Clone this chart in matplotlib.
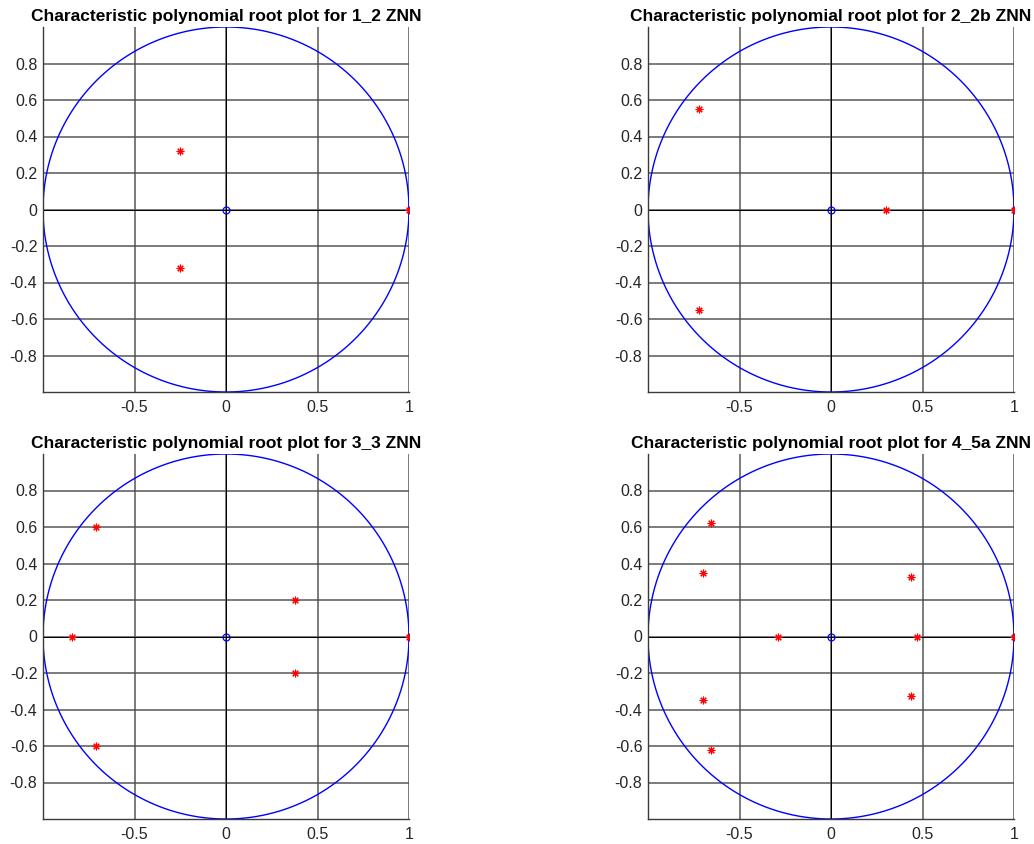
import matplotlib.pyplot as plt
import numpy as np

plt.rcParams['font.family'] = ['Liberation Sans', 'DejaVu Sans']

titles = ["1_2", "2_2b", "3_3", "4_5a"]

roots_1_2_re = [1.0, -0.25, -0.25]
roots_1_2_im = [0.0, 0.32, -0.32]

roots_2_2b_re = [1.0, 0.3, -0.72, -0.72]
roots_2_2b_im = [0.0, 0.0, 0.55, -0.55]

roots_3_3_re = [1.0, 0.375, 0.375, -0.71, -0.71, -0.84]
roots_3_3_im = [0.0, 0.2, -0.2, 0.6, -0.6, 0.0]

roots_4_5a_re = [1.0, 0.47, 0.435, 0.435, -0.29, -0.70, -0.70, -0.655, -0.655]
roots_4_5a_im = [0.0, 0.0, 0.328, -0.328, 0.0, 0.35, -0.35, 0.624, -0.624]

all_re = [roots_1_2_re, roots_2_2b_re, roots_3_3_re, roots_4_5a_re]
all_im = [roots_1_2_im, roots_2_2b_im, roots_3_3_im, roots_4_5a_im]

xticks = [-0.5, 0, 0.5, 1]
yticks = [-0.8, -0.6, -0.4, -0.2, 0, 0.2, 0.4, 0.6, 0.8]
xlabels = ["-0.5", "0", "0.5", "1"]
ylabels = ["-0.8", "-0.6", "-0.4", "-0.2", "0", "0.2", "0.4", "0.6", "0.8"]

fig = plt.figure(figsize=(10.34, 8.44), dpi=100)
W, H = 1034, 844
# axes boxes in pixels: left, top, width, height
boxes = [(43, 27, 366, 365), (648, 27, 366, 365),
         (43, 454, 366, 365), (648, 454, 366, 365)]

theta = np.linspace(0, 2 * np.pi, 400)
asterisk = (8, 2, 0)

for (l, t, w, h), name, re, im in zip(boxes, titles, all_re, all_im):
    ax = fig.add_axes([l / W, 1 - (t + h) / H, w / W, h / H])
    ax.set_xlim(-1, 1)
    ax.set_ylim(-1, 1)
    ax.set_xticks(xticks)
    ax.set_xticklabels(xlabels)
    ax.set_yticks(yticks)
    ax.set_yticklabels(ylabels)
    ax.grid(True, color='#4a4a4a', linewidth=1.2, alpha=0.85)
    ax.set_axisbelow(True)
    ax.axhline(0, color='black', linewidth=0.7, zorder=1.5)
    ax.axvline(0, color='black', linewidth=0.7, zorder=1.5)
    ax.plot(np.cos(theta), np.sin(theta), color='blue', linewidth=1.0, zorder=2)
    ax.plot([0], [0], 'o', color='blue', markerfacecolor='none',
            markersize=5, markeredgewidth=0.9, zorder=3)
    ax.plot(re, im, marker=asterisk, color='red', markersize=5.5,
            markeredgewidth=0.8, linestyle='none', zorder=4)
    for s in ['top', 'right']:
        ax.spines[s].set_visible(False)
    for s in ['left', 'bottom']:
        ax.spines[s].set_color('#3a3a3a')
        ax.spines[s].set_linewidth(1.0)
    ax.tick_params(length=0, labelsize=11.5, colors='#262626')
    ax.tick_params(axis='y', pad=4)
    ax.tick_params(axis='x', pad=6)
    ax.set_title("Characteristic polynomial root plot for " + name + " ZNN",
                 fontsize=12.5, fontweight='bold', pad=4)

fig.savefig("out.png", dpi=100)
